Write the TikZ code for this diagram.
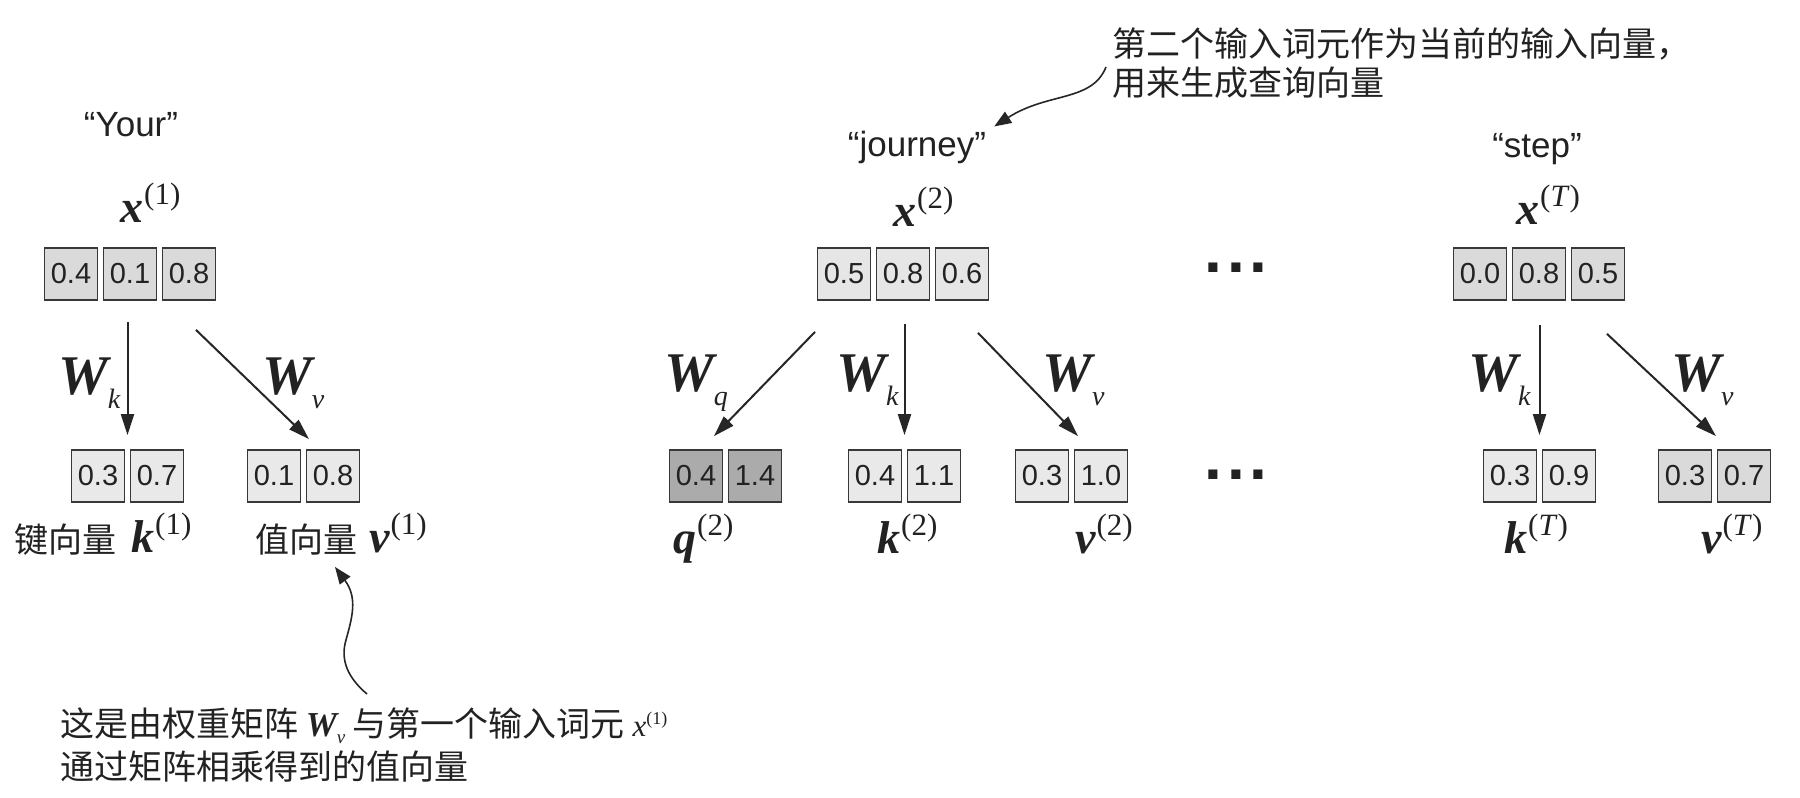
\documentclass[tikz,border=0pt]{standalone}
\usepackage{fontspec}
\setmainfont{Liberation Sans}
\newfontfamily\tmsfont{Liberation Serif}
\newfontfamily\cjkfont{Noto Sans CJK SC}
\usetikzlibrary{arrows.meta,calc}
\definecolor{boxline}{HTML}{383838}
\definecolor{fillA}{HTML}{DADADA}
\definecolor{fillB}{HTML}{E6E6E6}
\definecolor{fillC}{HTML}{E9E9E9}
\definecolor{fillQ}{HTML}{ABABAB}
\definecolor{ink}{HTML}{222222}
\definecolor{arrline}{HTML}{262626}
\newcommand{\vlab}[2]{{\fontsize{46}{46}\selectfont\tmsfont\bfseries\itshape #1}\kern1pt\raisebox{18pt}{\fontsize{31}{31}\selectfont\tmsfont #2}}
\newcommand{\wlab}[1]{{\fontsize{56}{56}\selectfont\tmsfont\bfseries\itshape W}\kern0pt\raisebox{-14pt}{\fontsize{28}{28}\selectfont\tmsfont\itshape #1}}
\newcommand{\cjktxt}[1]{{\fontsize{34}{34}\selectfont\cjkfont #1}}
\newcommand{\annW}{{\fontsize{35}{35}\selectfont\tmsfont\bfseries\itshape W}\raisebox{-7pt}{\fontsize{19}{19}\selectfont\tmsfont\itshape v}}
\newcommand{\annX}{{\fontsize{31}{31}\selectfont\tmsfont\itshape x}\raisebox{12pt}{\fontsize{18}{18}\selectfont\tmsfont (1)}}
\tikzset{
  cell/.style={draw=boxline, line width=1.8pt, minimum width=53pt, minimum height=52pt, inner sep=0pt, font=\fontsize{29}{29}\selectfont, text=ink},
  arr/.style={draw=arrline, line width=2pt, -{Triangle[length=21pt,width=13pt]}},
  curly/.style={draw=arrline, line width=1.6pt, -{Triangle[length=17pt,width=13pt]}},
  quote/.style={font=\fontsize{35}{35}\selectfont, inner sep=0pt, anchor=base, text=ink},
  vec/.style={inner sep=0pt, anchor=base west, text=ink},
  wl/.style={inner sep=0pt, anchor=base west, text=ink},
  ann/.style={inner sep=0pt, anchor=west, text=ink, font=\fontsize{34}{34}\selectfont\cjkfont},
  dotrow/.style={inner sep=0pt, text=ink, font=\fontsize{64}{64}\selectfont\bfseries}
}
\begin{document}
\begin{tikzpicture}[x=1pt,y=-1pt]
\useasboundingbox (0,0) rectangle (1800,798);
\fill[white] (0,0) rectangle (1800,798);

% ---------- token 1: "Your"
\node[quote] (w1) at (131,136) {“Your”};
\node[vec] (x1lab) at (120,222) {\vlab{x}{(1)}};
\node[cell, fill=fillA] (x1a) at (71,274) {0.4};
\node[cell, fill=fillA] (x1b) at (130,274) {0.1};
\node[cell, fill=fillA] (x1c) at (189,274) {0.8};
\node[cell, fill=fillC] (k1a) at (98,476) {0.3};
\node[cell, fill=fillC] (k1b) at (157,476) {0.7};
\node[cell, fill=fillC] (v1a) at (274,476) {0.1};
\node[cell, fill=fillC] (v1b) at (333,476) {0.8};
\node[wl] (wk1) at (58,394) {\wlab{k}};
\node[wl] (wv1) at (262,394) {\wlab{v}};
\node[vec] (k1lab) at (14,552) {\cjktxt{键向量}\hspace{15pt}\vlab{k}{(1)}};
\node[vec] (v1lab) at (255,552) {\cjktxt{值向量}\hspace{12pt}\vlab{v}{(1)}};
\coordinate (k1m) at ($(k1a.north east)!.5!(k1b.north west)$);
\coordinate (v1m) at ($(v1a.north east)!.5!(v1b.north west)$);

% ---------- token 2: "journey"
\node[quote] (w2) at (917,156) {“journey”};
\node[vec] (x2lab) at (893,226) {\vlab{x}{(2)}};
\node[cell, fill=fillB] (x2a) at (844,274) {0.5};
\node[cell, fill=fillB] (x2b) at (903,274) {0.8};
\node[cell, fill=fillB] (x2c) at (962,274) {0.6};
\node[cell, fill=fillQ] (q2a) at (696,476) {0.4};
\node[cell, fill=fillQ] (q2b) at (755,476) {1.4};
\node[cell, fill=fillC] (k2a) at (875,476) {0.4};
\node[cell, fill=fillC] (k2b) at (934,476) {1.1};
\node[cell, fill=fillC] (v2a) at (1042,476) {0.3};
\node[cell, fill=fillC] (v2b) at (1101,476) {1.0};
\node[wl] (wq2) at (664,391) {\wlab{q}};
\node[wl] (wk2) at (836,391) {\wlab{k}};
\node[wl] (wv2) at (1042,391) {\wlab{v}};
\node[vec] (q2lab) at (673,553) {\vlab{q}{(2)}};
\node[vec] (k2lab) at (877,553) {\vlab{k}{(2)}};
\node[vec] (v2lab) at (1075,553) {\vlab{v}{(2)}};
\coordinate (q2m) at ($(q2a.north east)!.5!(q2b.north west)$);
\coordinate (k2m) at ($(k2a.north east)!.5!(k2b.north west)$);
\coordinate (v2m) at ($(v2a.north east)!.5!(v2b.north west)$);

% ---------- ellipses
\node[dotrow] (dotsTop) at (1236,268) {.\hspace{5pt}.\hspace{5pt}.};
\node[dotrow] (dotsBot) at (1236,475) {.\hspace{5pt}.\hspace{5pt}.};

% ---------- token T: "step"
\node[quote] (w3) at (1537,157) {“step”};
\node[vec] (xTlab) at (1516,224) {\vlab{x}{(\textit{T})}};
\node[cell, fill=fillA] (xTa) at (1480,274) {0.0};
\node[cell, fill=fillA] (xTb) at (1539,274) {0.8};
\node[cell, fill=fillA] (xTc) at (1598,274) {0.5};
\node[cell, fill=fillC] (kTa) at (1510,476) {0.3};
\node[cell, fill=fillC] (kTb) at (1569,476) {0.9};
\node[cell, fill=fillA] (vTa) at (1685,476) {0.3};
\node[cell, fill=fillA] (vTb) at (1744,476) {0.7};
\node[wl] (wkT) at (1468,391) {\wlab{k}};
\node[wl] (wvT) at (1671,391) {\wlab{v}};
\node[vec] (kTlab) at (1504,553) {\vlab{k}{(\textit{T})}};
\node[vec] (vTlab) at (1701,553) {\vlab{v}{(\textit{T})}};
\coordinate (kTm) at ($(kTa.north east)!.5!(kTb.north west)$);
\coordinate (vTm) at ($(vTa.north east)!.5!(vTb.north west)$);

% ---------- projection arrows
\draw[arr, shorten <=21pt, shorten >=14pt] (k1m |- x1b.south) -- (k1m);
\draw[arr] ([xshift=7pt,yshift=-29pt]x1c.south) -- ([xshift=5.5pt,yshift=10pt]v1m);
\draw[arr] ([xshift=-29pt,yshift=-31pt]x2a.south) -- ([xshift=-11.5pt,yshift=13pt]q2m);
\draw[arr, shorten <=23pt, shorten >=14pt] (k2m |- x2b.south) -- (k2m);
\draw[arr] ([xshift=16pt,yshift=-32pt]x2c.south) -- ([xshift=6.5pt,yshift=13pt]v2m);
\draw[arr, shorten <=24pt, shorten >=14pt] (kTm |- xTb.south) -- (kTm);
\draw[arr] ([xshift=9pt,yshift=-33pt]xTc.south) -- ([xshift=1.5pt,yshift=13pt]vTm);

% ---------- annotations
\node[ann] (noteTop1) at (1112,44) {第二个输入词元作为当前的输入向量，};
\node[ann] (noteTop2) at (1112,83) {用来生成查询向量};
\coordinate (noteTopTail) at ([xshift=-6pt,yshift=16pt]noteTop2.west);
\draw[curly] (noteTopTail) .. controls (1092,102) and (1048,92) .. ([xshift=8pt,yshift=4pt]w2.north east);

\node[ann] (noteBot1) at (60,726) {这是由权重矩阵 \annW{} 与第一个输入词元 \annX};
\node[ann] (noteBot2) at (60,767) {通过矩阵相乘得到的值向量};
\coordinate (noteBotTail) at (367,694);
\draw[curly] (noteBotTail) .. controls (348,678) and (340,660) .. (346,640) .. controls (352,618) and (358,598) .. ([xshift=-6pt,yshift=-12pt]v1lab.south);
\end{tikzpicture}
\end{document}
